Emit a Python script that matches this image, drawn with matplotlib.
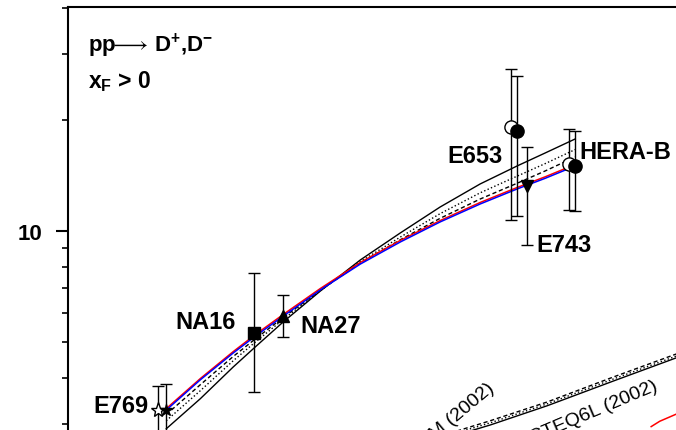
import numpy as np
import matplotlib.pyplot as plt
from matplotlib import ticker

plt.rcParams['font.family'] = ['Liberation Sans', 'DejaVu Sans']
plt.rcParams['mathtext.fontset'] = 'custom'
plt.rcParams['mathtext.rm'] = 'Liberation Sans'
plt.rcParams['mathtext.bf'] = 'Liberation Sans:bold'
plt.rcParams['mathtext.default'] = 'regular'
plt.rcParams['mathtext.fallback'] = 'stixsans'

# sqrt(s) in GeV, cross section (arbitrary units)
x_theory = [21.84, 23.43, 24.97, 25.95, 27.31, 29.04, 30.91, 32.78, 34.64, 36.51, 38.24, 39.55, 40.60]
blue_curve = [3.28, 3.96, 4.68, 5.17, 5.89, 6.93, 8.14, 9.34, 10.58, 11.83, 12.99, 13.88, 14.70]
red_curve = [3.31, 3.99, 4.72, 5.22, 5.95, 6.99, 8.22, 9.43, 10.67, 11.94, 13.11, 14.01, 14.84]

x_band = [21.84, 23.43, 24.97, 25.95, 27.31, 29.04, 30.91, 32.78, 34.64, 36.51, 38.24, 39.55, 40.95]
band_solid = [2.92, 3.52, 4.29, 4.83, 5.68, 6.88, 8.35, 9.88, 11.61, 13.40, 14.99, 16.25, 17.73]
band_dotted = [3.07, 3.70, 4.46, 4.98, 5.77, 6.90, 8.26, 9.63, 11.14, 12.68, 14.07, 15.21, 16.60]
band_dashed = [3.19, 3.84, 4.58, 5.08, 5.84, 6.92, 8.19, 9.47, 10.82, 12.20, 13.46, 14.53, 15.85]

# second set of curves (lower right)
x_low = [35.34, 36.98, 39.64, 42.73, 45.67, 46.0]
low_dashed = [2.87, 3.07, 3.45, 4.03, 4.65, 4.72]
low_dotted = [2.84, 3.03, 3.41, 3.98, 4.59, 4.67]
low_solid = [2.80, 2.99, 3.37, 3.93, 4.54, 4.61]
x_low_red = [44.5, 44.9, 46.0]
low_red = [2.96, 3.06, 3.26]

# experiments: x, y, err_low, err_high
e769_open = (21.47, 3.28, 0.53, 0.53)
e769_fill = (21.84, 3.28, 0.58, 0.58)
na16 = (25.95, 5.30, 1.64, 2.39)
na27 = (27.31, 5.89, 0.71, 0.82)
e653_open = (37.96, 19.10, 8.39, 8.30)
e653_fill = (38.24, 18.63, 7.65, 7.60)
e743 = (38.71, 13.24, 4.07, 3.63)
herab_open = (40.67, 15.18, 3.78, 3.69)
herab_fill = (40.95, 14.99, 3.66, 3.64)

fig = plt.figure(figsize=(6.76, 4.31), dpi=100)
ax = fig.add_axes([0.1006, -0.39675, 0.9418, 1.37819])
ax.set_yscale('log')
ax.set_xlim(17.25, 47.0)
ax.set_ylim(1, 40.3)

for s in ['left', 'top', 'right', 'bottom']:
    ax.spines[s].set_linewidth(1.5)

ax.yaxis.set_major_locator(ticker.FixedLocator([1, 10]))
ax.yaxis.set_major_formatter(ticker.FormatStrFormatter('%g'))
ax.yaxis.set_minor_locator(ticker.LogLocator(subs=np.arange(2, 10)))
ax.yaxis.set_minor_formatter(ticker.NullFormatter())
ax.tick_params(axis='y', which='major', direction='out', length=8.5, width=1.5,
               pad=10, labelsize=16)
ax.tick_params(axis='y', which='minor', direction='out', length=4.5, width=1.2)
ax.tick_params(axis='x', which='both', bottom=False, labelbottom=False)
for lab in ax.get_yticklabels():
    lab.set_fontweight('bold')

# theory curves
ax.plot(x_band, band_solid, color='k', lw=1.0)
ax.plot(x_band, band_dotted, color='k', lw=1.0, ls=':')
ax.plot(x_band, band_dashed, color='k', lw=1.0, ls='--', dashes=(3, 2))
ax.plot(x_theory, red_curve, color='red', lw=1.1)
ax.plot(x_theory, blue_curve, color='blue', lw=1.1)

ax.plot(x_low, low_dashed, color='k', lw=1.0, ls='--', dashes=(3, 2))
ax.plot(x_low, low_dotted, color='k', lw=1.0, ls=':')
ax.plot(x_low, low_solid, color='k', lw=1.0)
ax.plot(x_low_red, low_red, color='red', lw=1.1)


def point(p, marker, ms, face='k'):
    ax.errorbar([p[0]], [p[1]], yerr=[[p[2]], [p[3]]], fmt=marker, ms=ms,
                mfc=face, mec='k', mew=1.0, ecolor='k', elinewidth=1.0,
                capsize=4, capthick=1.0)


point(e769_open, '*', 11, 'white')
point(e769_fill, '*', 9)
point(na16, 's', 8.5)
point(na27, '^', 8)
point(e653_open, 'o', 9.5, 'white')
point(e653_fill, 'o', 9.5)
point(e743, 'v', 8.5)
point(herab_open, 'o', 9.5, 'white')
point(herab_fill, 'o', 9.5)

lab = dict(fontsize=17, fontweight='bold', va='baseline', ha='left')
ax.text(18.43, 3.24, 'E769', **lab)
ax.text(22.26, 5.47, 'NA16', **lab)
ax.text(28.10, 5.33, 'NA27', **lab)
ax.text(34.97, 15.37, 'E653', **lab)
ax.text(39.13, 8.83, 'E743', **lab)
ax.text(41.14, 15.75, 'HERA-B', **lab)

ax.text(37.21, 3.74, 'CTEQ6M (2002)', fontsize=14, rotation=40,
        rotation_mode='anchor', ha='right', va='baseline')
ax.text(44.83, 3.74, 'CTEQ6L (2002)', fontsize=14, rotation=23,
        rotation_mode='anchor', ha='right', va='baseline')

ax.text(0.0314, 0.9259, r'pp$\!\!\longrightarrow\!$ D$^{+}$,D$^{-}$', transform=ax.transAxes,
        fontsize=16, fontweight='bold', va='baseline')
ax.text(0.0314, 0.8653, r'x$_{F}$ > 0', transform=ax.transAxes,
        fontsize=16.5, fontweight='bold', va='baseline')

fig.savefig('out.png', dpi=100)
